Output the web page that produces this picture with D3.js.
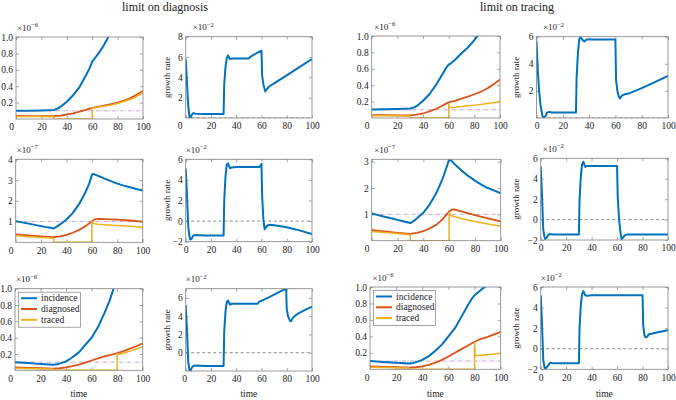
<!DOCTYPE html>
<html>
<head>
<meta charset="utf-8">
<script src="https://cdn.jsdelivr.net/npm/d3@7"></script>
<style>
body { margin: 0; background: #fff; }
svg text { font-family: "Liberation Serif", "DejaVu Serif", serif; fill: #1a1a1a; }
</style>
</head>
<body>
<script>
var width = 676,
    height = 400;

var fontSerif = '"Liberation Serif", "DejaVu Serif", serif';

var timeTicks = [0, 20, 40, 60, 80, 100];
var seriesNames = ['incidence', 'diagnosed', 'traced'];
var columnTitles = ['limit on diagnosis', 'limit on tracing'];
var colors = ['#0072bd', '#d95319', '#edb120'];

// row 1, limit on diagnosis (x1e-6 / x1e-2)
var incA = [[0,0.10],[10,0.102],[20,0.105],[30,0.11],[33,0.13],[36,0.16],[40,0.21],[45,0.29],[50,0.39],[55,0.53],[58,0.62],[60,0.70],[62,0.74],[65,0.80],[68,0.87],[71,0.95],[73,1.01]];
var diagA = [[0,0.037],[10,0.036],[20,0.035],[30,0.035],[35,0.042],[40,0.055],[45,0.07],[50,0.09],[55,0.11],[60,0.135],[65,0.15],[70,0.165],[75,0.18],[80,0.2],[85,0.225],[90,0.255],[95,0.295],[100,0.345]];
var traceA = [[0,0.03],[10,0.03],[20,0.029],[29.8,0.028],[30,0],[60,0],[60,0.135],[65,0.145],[70,0.158],[75,0.172],[80,0.19],[85,0.213],[90,0.24],[95,0.275],[100,0.32]];
var growthA = [[0,5.8],[1,3.5],[2,1.2],[3,0.1],[4,0.05],[5,0.35],[6,0.48],[8,0.42],[15,0.4],[30,0.4],[30.5,3.3],[31.5,5.0],[32.5,5.9],[33.5,6.15],[35,5.8],[37,5.85],[45,5.85],[50,5.85],[51.5,6.05],[55,6.3],[60,6.62],[60.5,4.2],[61.5,3.3],[63,2.6],[64,2.8],[66,3.1],[70,3.4],[80,4.2],[90,5.0],[100,5.8]];

// row 1, limit on tracing
var incC = [[0,0.105],[10,0.107],[20,0.11],[30,0.115],[33,0.13],[36,0.155],[40,0.21],[45,0.29],[50,0.4],[55,0.53],[58,0.61],[60,0.65],[62,0.67],[65,0.71],[70,0.79],[75,0.86],[80,0.95],[83,1.01]];
var diagC = [[0,0.035],[10,0.034],[20,0.033],[30,0.032],[35,0.04],[40,0.055],[45,0.08],[50,0.11],[55,0.15],[58,0.175],[60,0.19],[62,0.2],[65,0.21],[70,0.235],[75,0.26],[80,0.29],[85,0.32],[90,0.36],[95,0.41],[100,0.47]];
var traceC = [[0,0.028],[10,0.027],[20,0.026],[29.8,0.025],[30,0],[60,0],[60,0.17],[60.8,0.125],[65,0.13],[70,0.14],[75,0.148],[80,0.157],[85,0.166],[90,0.176],[95,0.187],[100,0.2]];
var growthC = [[0,5.7],[1,3.5],[2,2.0],[3,1.0],[4.5,0.15],[5.5,0.05],[7,0.15],[8,0.4],[9.5,0.45],[12,0.4],[30,0.4],[30.5,3.0],[31.5,4.8],[32.5,5.8],[33.5,6.0],[35,5.75],[36.5,5.65],[38,5.8],[45,5.8],[60,5.8],[60.5,2.8],[61.5,2.0],[62.5,1.6],[63.5,1.45],[65,1.65],[67,1.75],[70,1.8],[80,2.2],[90,2.65],[100,3.1]];

// row 2 (x1e-7)
var incE = [[0,1.02],[5,0.96],[10,0.9],[15,0.84],[20,0.78],[25,0.72],[30,0.67],[33,0.78],[36,0.91],[40,1.1],[45,1.42],[50,1.85],[55,2.42],[58,2.85],[60,3.25],[61,3.3],[65,3.2],[70,3.07],[75,2.95],[80,2.83],[85,2.73],[90,2.65],[95,2.57],[100,2.5]];
var diagE = [[0,0.38],[10,0.33],[20,0.29],[30,0.25],[35,0.29],[40,0.36],[45,0.46],[50,0.6],[55,0.78],[58,0.92],[60,1.02],[62,1.1],[65,1.13],[70,1.12],[80,1.09],[90,1.05],[100,1.0]];
var traceE = [[0,0.31],[10,0.27],[20,0.23],[29.8,0.2],[30,0],[60,0],[60,1.0],[61.5,0.9],[65,0.87],[70,0.85],[80,0.81],[90,0.77],[100,0.73]];
var growthE = [[0,5.1],[1,2.5],[2,-0.5],[3,-1.5],[3.5,-1.8],[4.5,-1.75],[6,-1.4],[8,-1.35],[15,-1.4],[30,-1.4],[30.5,2.0],[31.5,4.3],[32.5,5.5],[33.5,5.6],[35,5.15],[36.5,5.2],[40,5.25],[58.5,5.25],[60,5.55],[60.5,2.5],[61.5,0.2],[62.5,-0.8],[63.5,-0.6],[65,-0.4],[67,-0.35],[70,-0.4],[80,-0.6],[90,-0.9],[100,-1.26]];

var incG = [[0,1.03],[5,0.97],[10,0.91],[15,0.85],[20,0.79],[25,0.73],[30,0.67],[33,0.76],[36,0.89],[40,1.06],[45,1.38],[50,1.8],[55,2.36],[58,2.78],[60,3.08],[60.5,3.1],[62,3.02],[65,2.87],[70,2.65],[75,2.45],[80,2.28],[85,2.13],[90,2.0],[95,1.9],[100,1.8]];
var diagG = [[0,0.4],[10,0.35],[20,0.3],[30,0.26],[35,0.3],[40,0.36],[45,0.47],[50,0.6],[55,0.82],[58,1.0],[60,1.1],[62,1.18],[64,1.19],[70,1.1],[80,0.97],[90,0.85],[100,0.73]];
var traceG = [[0,0.35],[10,0.31],[20,0.27],[29.8,0.23],[30,0],[60,0],[60,1.06],[61.5,0.95],[65,0.9],[70,0.83],[80,0.73],[90,0.63],[100,0.55]];
var growthG = [[0,5.2],[1,2.5],[2,-1.0],[3,-1.7],[3.5,-1.9],[4.5,-1.8],[6,-1.5],[7,-1.42],[10,-1.45],[30,-1.45],[30.5,1.9],[31.5,4.2],[32.5,5.4],[33.5,5.65],[35,5.15],[36.5,5.25],[40,5.25],[60,5.25],[60.5,2.2],[61.5,0.1],[62.5,-1.1],[63.5,-1.9],[64.5,-1.8],[66,-1.55],[68,-1.45],[100,-1.45]];

// row 3 (x1e-6)
var incI = [[0,0.1],[10,0.09],[20,0.078],[30,0.068],[33,0.075],[36,0.088],[40,0.11],[45,0.16],[50,0.22],[55,0.31],[60,0.4],[65,0.53],[70,0.7],[74,0.85],[77,0.99],[78,1.04]];
var diagI = [[0,0.035],[10,0.03],[20,0.025],[30,0.02],[35,0.025],[40,0.035],[45,0.05],[50,0.07],[55,0.095],[60,0.12],[65,0.145],[70,0.17],[75,0.19],[80,0.21],[85,0.235],[90,0.265],[95,0.295],[100,0.33]];
var traceI = [[0,0.025],[10,0.021],[20,0.018],[29.8,0.015],[30,0],[80,0],[80,0.205],[80.5,0.19],[85,0.21],[90,0.235],[95,0.262],[100,0.29]];
var growthI = [[0,5.2],[1,2.5],[2,-1.0],[3,-1.95],[4,-1.9],[5,-1.6],[6,-1.45],[8,-1.4],[15,-1.45],[30,-1.45],[30.5,2.3],[31.5,4.5],[32.5,5.55],[33.5,5.7],[35,5.25],[36.5,5.35],[40,5.35],[57,5.35],[58,5.55],[65,6.0],[70,6.35],[75,6.7],[79.5,7.0],[80,4.8],[81,4.0],[82.5,3.5],[83.5,3.45],[85,3.85],[87.5,4.15],[90,4.35],[95,4.7],[100,5.05]];

var incK = [[0,0.1],[10,0.09],[20,0.08],[30,0.07],[33,0.077],[36,0.09],[40,0.115],[45,0.16],[50,0.225],[55,0.3],[60,0.4],[65,0.5],[70,0.64],[75,0.78],[78,0.86],[80,0.9],[83,0.94],[86,0.98],[88,1.0],[90,1.03]];
var diagK = [[0,0.035],[10,0.03],[20,0.025],[30,0.02],[35,0.025],[40,0.035],[45,0.055],[50,0.08],[55,0.115],[60,0.155],[65,0.2],[70,0.245],[75,0.29],[80,0.335],[82,0.35],[85,0.37],[90,0.395],[95,0.425],[100,0.455]];
var traceK = [[0,0.025],[10,0.021],[20,0.018],[29.8,0.015],[30,0],[80,0],[80,0.33],[80.5,0.165],[85,0.17],[90,0.178],[95,0.186],[100,0.195]];
var growthK = [[0,5.2],[1,2.5],[2,-1.1],[3,-1.8],[3.5,-1.95],[4.5,-1.85],[6,-1.6],[7.5,-1.35],[9,-1.4],[30,-1.4],[30.5,2.0],[31.5,4.2],[32.5,5.3],[33.5,5.6],[35,5.2],[36.5,5.15],[40,5.2],[80,5.2],[80.5,2.3],[81.5,1.3],[82.5,1.1],[83.5,1.15],[85,1.4],[87,1.45],[90,1.55],[95,1.68],[100,1.8]];

var incTicks6 = [0.2, 0.4, 0.6, 0.8, 1.0];
var incTicks7a = [1, 2, 3, 4];
var incTicks7b = [1, 2, 3];
var thresholds = [0.1, 1, 0.1];

var svg = d3.select('body')
  .append('svg')
    .attr('width', width)
    .attr('height', height);

var panels = [
  {id:'A', kind:'inc', x0:16, x1:143, y0:119, y1:37, dom:[0,1], ticks:incTicks6, fmt:'.1f', exp:'\u22126', expDx:1, zeroDx:-5, series:[incA, diagA, traceA], thr:thresholds[0]},
  {id:'B', kind:'growth', x0:185.7, x1:312, y0:118, y1:36.7, dom:[0,8], ticks:[2,4,6,8], exp:'\u22122', expDx:7, zeroDx:-6, series:[growthA], labelX:167.5},
  {id:'C', kind:'inc', x0:371.7, x1:500, y0:118, y1:36, dom:[0,1], ticks:incTicks6, fmt:'.1f', exp:'\u22126', expDx:2.5, zeroDx:-5, series:[incC, diagC, traceC], thr:thresholds[0]},
  {id:'D', kind:'growth', x0:536.5, x1:668, y0:118, y1:36.7, dom:[0,6], ticks:[2,4,6], exp:'\u22122', expDx:6.5, zeroDx:0, series:[growthC], labelX:516},
  {id:'E', kind:'inc', x0:15.7, x1:142.7, y0:242.3, y1:159.3, dom:[0,4], ticks:incTicks7a, fmt:'d', exp:'\u22127', expDx:1, zeroDx:-5, series:[incE, diagE, traceE], thr:thresholds[1]},
  {id:'F', kind:'growth', x0:185.7, x1:312, y0:241.7, y1:159.3, dom:[-2,6], ticks:[-2,0,2,4,6], exp:'\u22122', expDx:0, zeroDx:0, series:[growthE], labelX:167.5},
  {id:'G', kind:'inc', x0:371.7, x1:500.7, y0:240.7, y1:159.3, dom:[0,3.09], ticks:incTicks7b, fmt:'d', exp:'\u22127', expDx:2.5, zeroDx:-5, series:[incG, diagG, traceG], thr:thresholds[1]},
  {id:'H', kind:'growth', x0:540.7, x1:668, y0:240, y1:158.3, dom:[-2,6], ticks:[-2,0,2,4,6], exp:'\u22122', expDx:2, zeroDx:0, series:[growthG], labelX:516},
  {id:'I', kind:'inc', x0:15, x1:142.7, y0:370.3, y1:288.7, dom:[0,1], ticks:incTicks6, fmt:'.1f', exp:'\u22126', expDx:1, zeroDx:-5, series:[incI, diagI, traceI], thr:thresholds[2], legend:true, xlabel:true},
  {id:'J', kind:'growth', x0:185.7, x1:312, y0:371, y1:288.7, dom:[-2,7], ticks:[0,2,4,6], exp:'\u22122', expDx:0, zeroDx:-1.5, series:[growthI], labelX:167.5, xlabel:true},
  {id:'K', kind:'inc', x0:370, x1:500.7, y0:369.3, y1:287, dom:[0,1], ticks:incTicks6, fmt:'.1f', exp:'\u22126', expDx:2.5, zeroDx:-3.5, series:[incK, diagK, traceK], thr:thresholds[2], legend:true, xlabel:true},
  {id:'L', kind:'growth', x0:540.7, x1:668, y0:369.3, y1:287, dom:[-2,6], ticks:[-2,0,2,4,6], exp:'\u22122', expDx:0, zeroDx:0, series:[growthK], labelX:516, xlabel:true}
];

var frameColor = '#808080';

function styleAxis(sel){
  sel.attr('font-family', fontSerif).attr('font-size', 9.5);
  sel.select('.domain').remove();
  sel.selectAll('line').attr('stroke', frameColor).attr('stroke-width', 0.7);
  sel.selectAll('text').attr('fill', '#1a1a1a');
}

function drawPanel(p){
  var x = d3.scaleLinear().domain([0, 100]).range([p.x0, p.x1]);
  var y = d3.scaleLinear().domain(p.dom).range([p.y0, p.y1]);
  var g = svg.append('g').attr('font-family', fontSerif);

  g.append('clipPath')
      .attr('id', 'clip' + p.id)
    .append('rect')
      .attr('x', p.x0)
      .attr('y', p.y1)
      .attr('width', p.x1 - p.x0)
      .attr('height', p.y0 - p.y1);

  g.append('g')
      .attr('transform', 'translate(0,' + p.y0 + ')')
      .call(d3.axisBottom(x).tickValues(timeTicks).tickSizeInner(-3).tickSizeOuter(0).tickPadding(4.5))
      .call(styleAxis)
      .selectAll('text')
        .attr('dx', function(d){ return d === 0 ? p.zeroDx : 0; });
  g.append('g')
      .attr('transform', 'translate(0,' + p.y1 + ')')
      .call(d3.axisTop(x).tickValues(timeTicks).tickSizeInner(-3).tickSizeOuter(0).tickFormat(''))
      .call(styleAxis);
  g.append('g')
      .attr('transform', 'translate(' + p.x0 + ',0)')
      .call(d3.axisLeft(y).tickValues(p.ticks).tickSizeInner(-3).tickSizeOuter(0).tickPadding(3)
        .tickFormat(d3.format(p.fmt || 'd')))
      .call(styleAxis);
  g.append('g')
      .attr('transform', 'translate(' + p.x1 + ',0)')
      .call(d3.axisRight(y).tickValues(p.ticks).tickSizeInner(-3).tickSizeOuter(0).tickFormat(''))
      .call(styleAxis);

  var plot = g.append('g').attr('clip-path', 'url(#clip' + p.id + ')');

  if (p.kind === 'inc') {
    plot.append('line')
        .attr('x1', x(0)).attr('x2', x(100))
        .attr('y1', y(p.thr)).attr('y2', y(p.thr))
        .attr('stroke', '#b28fcf')
        .attr('stroke-width', 0.8)
        .attr('stroke-dasharray', '4,1.5,1,1.5');
  } else {
    plot.append('line')
        .attr('x1', x(0)).attr('x2', x(100))
        .attr('y1', y(0)).attr('y2', y(0))
        .attr('stroke', '#7f7f7f')
        .attr('stroke-width', 0.9)
        .attr('stroke-dasharray', '3,2.5');
  }

  var line = d3.line()
    .x(function(d){ return x(d[0]); })
    .y(function(d){ return y(d[1]); });

  var widths = [2, 1.8, 1.5];
  p.series.forEach(function(s, i){
    plot.append('path')
        .datum(s)
        .attr('d', line)
        .attr('fill', 'none')
        .attr('stroke', colors[i])
        .attr('stroke-width', widths[i])
        .attr('stroke-linejoin', 'round');
  });

  g.append('rect')
      .attr('x', p.x0)
      .attr('y', p.y1)
      .attr('width', p.x1 - p.x0)
      .attr('height', p.y0 - p.y1)
      .attr('fill', 'none')
      .attr('stroke', frameColor)
      .attr('stroke-width', 0.8);

  var ex = g.append('text')
      .attr('x', p.x0 + p.expDx)
      .attr('y', p.y1 - 6.5)
      .attr('font-size', 9)
      .text('\u00d710');
  ex.append('tspan')
      .attr('dy', -3.5)
      .attr('font-size', 6.5)
      .text(p.exp);

  if (p.kind === 'growth') {
    g.append('text')
        .attr('transform', 'translate(' + p.labelX + ',' + (p.y0 + p.y1) / 2 + ') rotate(-90)')
        .attr('text-anchor', 'middle')
        .attr('dy', '0.3em')
        .attr('font-size', 9)
        .text('growth rate');
  }

  if (p.xlabel) {
    g.append('text')
        .attr('x', (p.x0 + p.x1) / 2)
        .attr('y', 397)
        .attr('text-anchor', 'middle')
        .attr('font-size', 9.5)
        .text('time');
  }

  if (p.legend) {
    var lg = g.append('g').attr('transform', 'translate(' + (p.x0 + 3.5) + ',' + (p.y1 + 3.5) + ')');
    lg.append('rect')
        .attr('width', 62)
        .attr('height', 35)
        .attr('fill', '#fff')
        .attr('stroke', frameColor)
        .attr('stroke-width', 0.7);
    seriesNames.forEach(function(name, i){
      var yy = 6 + i * 10.8;
      lg.append('line')
          .attr('x1', 2.5).attr('x2', 18.5)
          .attr('y1', yy).attr('y2', yy)
          .attr('stroke', colors[i])
          .attr('stroke-width', 2);
      lg.append('text')
          .attr('x', 22.5)
          .attr('y', yy)
          .attr('dy', '0.33em')
          .attr('font-size', 9.5)
          .text(name);
    });
  }
}

panels.forEach(drawPanel);

svg.append('text')
    .attr('x', 165)
    .attr('y', 10.5)
    .attr('text-anchor', 'middle')
    .attr('font-size', 12)
    .text(columnTitles[0]);
svg.append('text')
    .attr('x', 517)
    .attr('y', 10.5)
    .attr('text-anchor', 'middle')
    .attr('font-size', 12)
    .text(columnTitles[1]);
</script>
</body>
</html>
